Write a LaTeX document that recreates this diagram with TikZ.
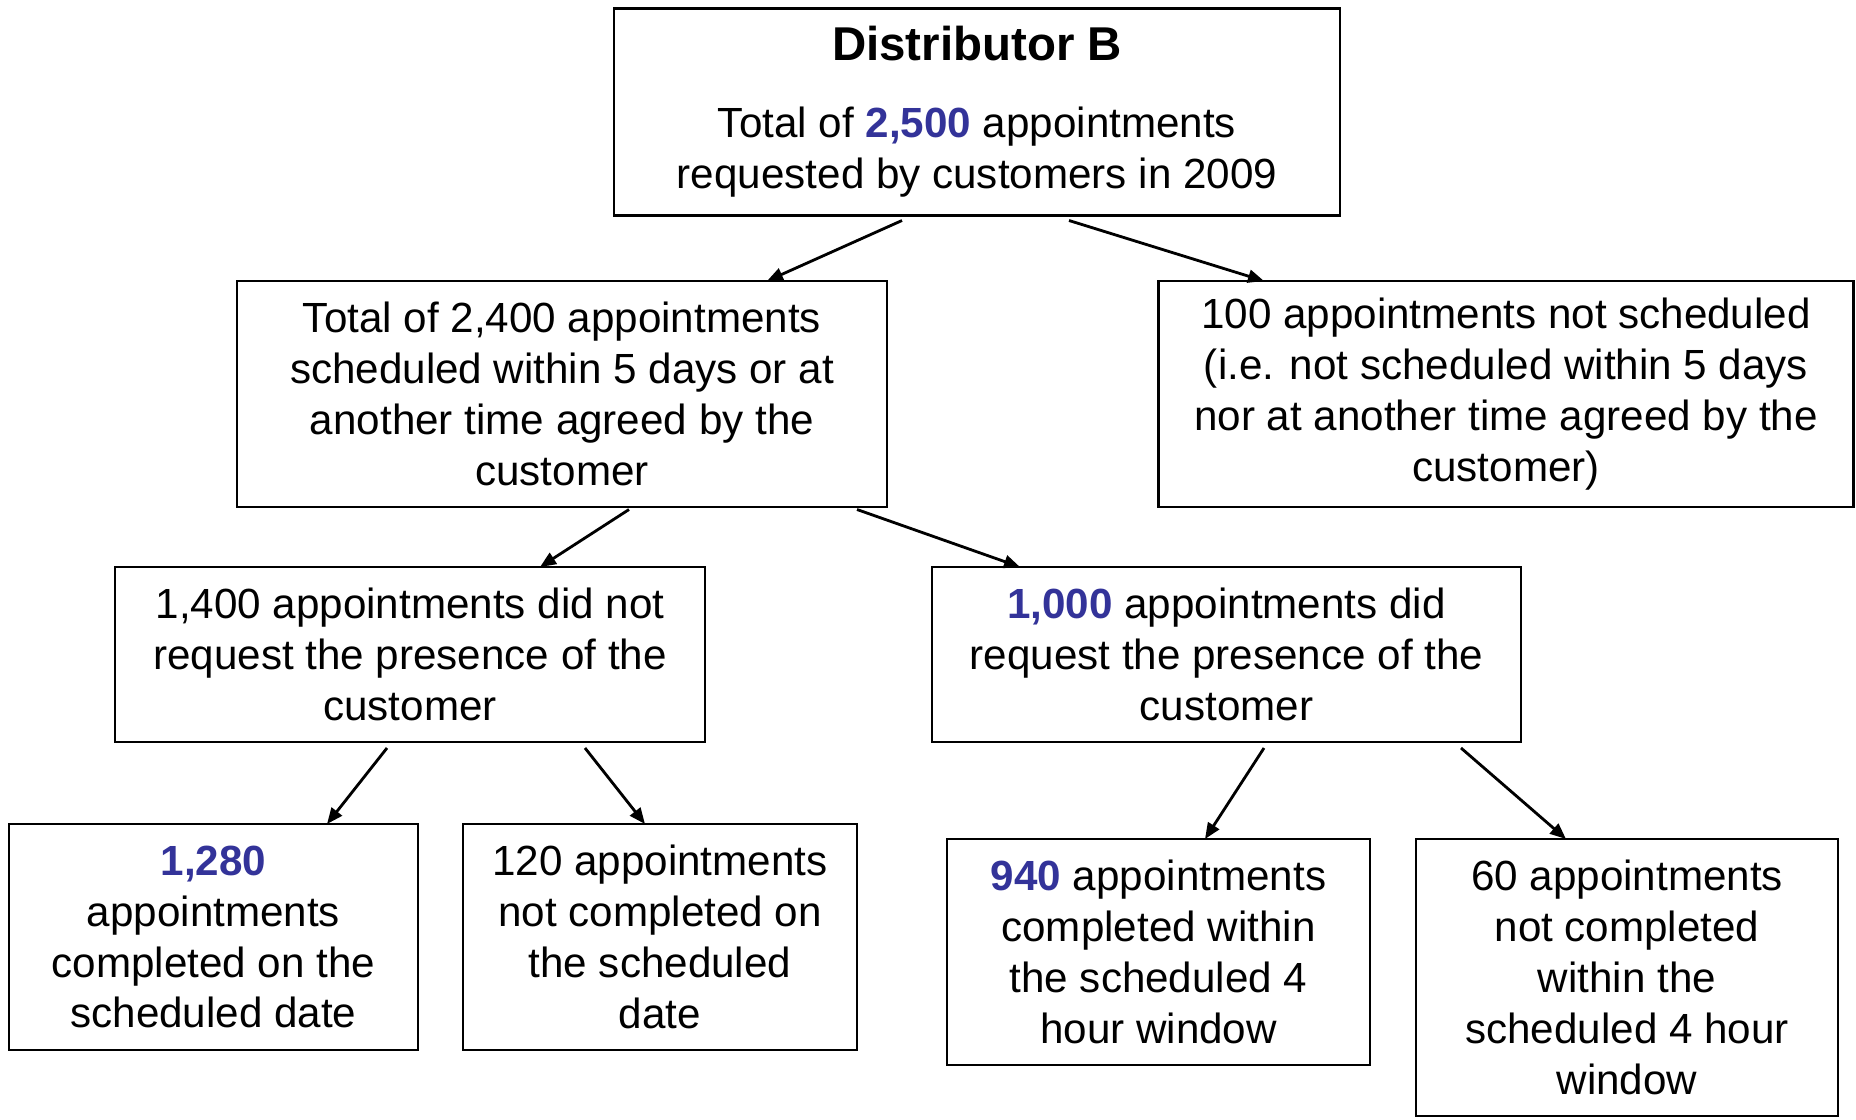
\documentclass[tikz,border=0pt]{standalone}
\usepackage{fontspec}
\setmainfont{Liberation Sans}
\usepackage{tikz}
\usetikzlibrary{arrows.meta,calc}
\definecolor{ApptInk}{gray}{0.0}
\definecolor{ApptNumber}{RGB}{51,51,153}
\newcommand{\apptnum}[1]{\textcolor{ApptNumber}{\textbf{#1}}}
\tikzset{
    appt/diagram/.style={
        font=\fontsize{24}{29}\selectfont,
        draw=ApptInk,
        text=ApptInk,
        line cap=butt,
        line join=miter,
        every node/.style={inner sep=2pt, outer sep=0pt}
    },
    appt/box/.style={
        draw=ApptInk, line width=1.2pt, fill=white,
        align=center
    },
    appt/flow/.style={
        draw=ApptInk, line width=1.6pt,
        -{Triangle[length=3.2mm, width=2.6mm]}
    },
    appt/title/.style={font=\fontsize{27}{32}\selectfont\bfseries}
}
\begin{document}
\begin{tikzpicture}[appt/diagram]
    \useasboundingbox (0,0) rectangle (37.12,-22.4);
    % Root: all requested appointments.
    \node[appt/box, minimum width=14.52cm, minimum height=4.14cm] (top) at (19.54,-2.24)
        {{\fontsize{27}{32}\selectfont\bfseries Distributor B}\\[15pt]
         Total of \apptnum{2,500} appointments\\
         requested by customers in 2009};
    % Second level: scheduled or not.
    \node[appt/box, minimum width=13.0cm, minimum height=4.52cm] (sched) at (11.24,-7.88)
        {Total of 2,400 appointments\\ scheduled within 5 days or at\\
         another time agreed by the\\ customer};
    \node[appt/box, minimum width=13.9cm, minimum height=4.52cm] (unsched) at (30.12,-7.88)
        {100 appointments not scheduled\\ (i.e. not scheduled within 5 days\\
         nor at another time agreed by the\\ customer)};
    % Third level: presence of the customer.
    \node[appt/box, minimum width=11.8cm, minimum height=3.5cm] (nopres) at (8.2,-13.09)
        {1,400 appointments did not\\ request the presence of the\\ customer};
    \node[appt/box, minimum width=11.78cm, minimum height=3.5cm] (pres) at (24.53,-13.09)
        {\apptnum{1,000} appointments did\\ request the presence of the\\ customer};
    % Leaves: completed or not.
    \node[appt/box, minimum width=8.18cm, minimum height=4.52cm] (dateok) at (4.27,-18.74)
        {\apptnum{1,280}\\ appointments\\ completed on the\\ scheduled date};
    \node[appt/box, minimum width=7.88cm, minimum height=4.52cm] (datemiss) at (13.2,-18.74)
        {120 appointments\\ not completed on\\ the scheduled\\ date};
    \node[appt/box, minimum width=8.46cm, minimum height=4.52cm] (winok) at (23.17,-19.04)
        {\apptnum{940} appointments\\ completed within\\ the scheduled 4\\ hour window};
    \node[appt/box, minimum width=8.44cm, minimum height=5.54cm] (winmiss) at (32.54,-19.55)
        {60 appointments\\ not completed\\ within the\\ scheduled 4 hour\\ window};
    % Connectors, leaving a small gap under each parent box.
    \draw[appt/flow] ([shift={(-1.5,-0.1)}]top.south) -- ([xshift=4.1cm]sched.north);
    \draw[appt/flow] ([shift={(1.84,-0.1)}]top.south) -- ([xshift=-4.84cm]unsched.north);
    \draw[appt/flow] ([shift={(1.34,-0.05)}]sched.south) -- ([xshift=2.6cm]nopres.north);
    \draw[appt/flow] ([shift={(5.9,-0.05)}]sched.south) -- ([xshift=-4.13cm]pres.north);
    \draw[appt/flow] ([shift={(-0.46,-0.12)}]nopres.south) -- ([xshift=2.27cm]dateok.north);
    \draw[appt/flow] ([shift={(3.5,-0.12)}]nopres.south) -- ([xshift=-0.3cm]datemiss.north);
    \draw[appt/flow] ([shift={(0.75,-0.12)}]pres.south) -- ([xshift=0.93cm]winok.north);
    \draw[appt/flow] ([shift={(4.69,-0.12)}]pres.south) -- ([xshift=-1.22cm]winmiss.north);
\end{tikzpicture}
\end{document}
